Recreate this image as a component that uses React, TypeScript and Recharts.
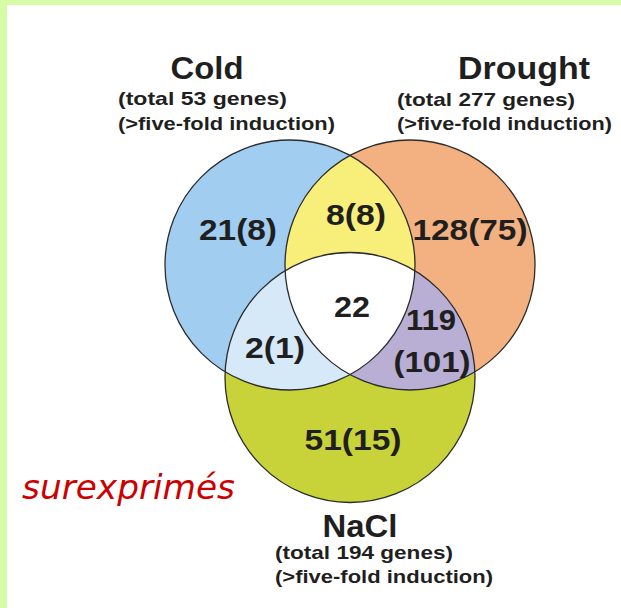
import React from 'react';
import { ScatterChart, Scatter, XAxis, YAxis } from 'recharts';

// ---- Data ----
const SETS = ['Cold', 'Drought', 'NaCl'];
const SET_TOTALS = [53, 277, 194];
// Venn circle centres in diagram units (circle radius = 100 units)
const CIRCLE_X = [-48, 48, 0];
const CIRCLE_Y = [0, 0, -90];
const RADIUS_UNITS = 100;

const REGION_NAMES = ['Cold only', 'Cold∩Drought', 'Drought only', 'All three', 'Cold∩NaCl', 'Drought∩NaCl', 'NaCl only'];
const REGION_TEXT = [['21(8)'], ['8(8)'], ['128(75)'], ['22'], ['2(1)'], ['119', '(101)'], ['51(15)']];

const SUBTITLE = '(>five-fold induction)';
const NOTE = 'surexprimés';

// ---- Layout / style ----
const W = 621;
const H = 608;
const X_DOMAIN: [number, number] = [-280, 216.8];
const Y_DOMAIN: [number, number] = [-274.4, 212];
const K = W / (X_DOMAIN[1] - X_DOMAIN[0]);

const SET_FILL = ['#a0cdf0', '#f3b182', '#c8d33a'];
// overlap regions: painted circle index + clipping circle indices
const OVERLAP_BASE = [1, 2, 2, 2];
const OVERLAP_CLIPS = [[0], [0], [1], [0, 1]];
const OVERLAP_FILL = ['#f8ee7a', '#d6e9f8', '#b9aed3', '#ffffff'];

// label positions (diagram units): [x, baseline y, textLength px]
const REGION_POS: number[][][] = [
  [[-89.6, 20, 78]],
  [[4.8, 32, 60]],
  [[96, 20, 115]],
  [[1.6, -41.6, 36]],
  [[-60, -74.4, 60]],
  [[64.8, -52, 50], [65.6, -85.6, 77]],
  [[2.4, -148, 97]],
];
const TITLE_POS = [
  [-114.4, 148.8, 73],
  [139.2, 148.8, 132],
  [8, -217.6, 75],
];
const TOTAL_POS = [
  [-185.6, 128, 169],
  [37.6, 127.2, 178],
  [-60, -235.2, 178],
];
const SUB_POS = [
  [-185.6, 108, 217],
  [37.6, 108, 215],
  [-60, -254.4, 218],
];
const NOTE_POS = [-262.4, -187.2, 213];

const FONT = '"Liberation Sans", Arial, Helvetica, sans-serif';
const TEXT_COLOR = '#1f1f1f';

const circleData = SETS.map((name, i) => ({ name, idx: i, x: CIRCLE_X[i], y: CIRCLE_Y[i] }));
const overlapData = OVERLAP_BASE.map((b, i) => ({ idx: i, base: b, clips: OVERLAP_CLIPS[i], x: CIRCLE_X[b], y: CIRCLE_Y[b] }));

type Ann = { x: number; y: number; text: string; len: number; size: number; anchor: string; italic?: boolean; color?: string; bold?: boolean };
const annData: Ann[] = [];
REGION_NAMES.forEach((_, i) => {
  REGION_TEXT[i].forEach((t, j) => {
    const p = REGION_POS[i][j];
    annData.push({ x: p[0], y: p[1], text: t, len: p[2], size: 30, anchor: 'middle', bold: true });
  });
});
SETS.forEach((s, i) => {
  annData.push({ x: TITLE_POS[i][0], y: TITLE_POS[i][1], text: s, len: TITLE_POS[i][2], size: 31, anchor: 'middle', bold: true });
  annData.push({ x: TOTAL_POS[i][0], y: TOTAL_POS[i][1], text: `(total ${SET_TOTALS[i]} genes)`, len: TOTAL_POS[i][2], size: 19, anchor: 'start', bold: true });
  annData.push({ x: SUB_POS[i][0], y: SUB_POS[i][1], text: SUBTITLE, len: SUB_POS[i][2], size: 19, anchor: 'start', bold: true });
});
annData.push({ x: NOTE_POS[0], y: NOTE_POS[1], text: NOTE, len: NOTE_POS[2], size: 33, anchor: 'start', italic: true, color: '#cc0000', bold: false });

const rPx = RADIUS_UNITS * K;

const CircleFill = (props: any) => {
  const { cx, cy, payload } = props;
  return (
    <g>
      <defs>
        <clipPath id={`venn-clip-${payload.idx}`}>
          <circle cx={cx} cy={cy} r={rPx} />
        </clipPath>
      </defs>
      <circle cx={cx} cy={cy} r={rPx} fill={SET_FILL[payload.idx]} />
    </g>
  );
};

const OverlapFill = (props: any) => {
  const { cx, cy, payload } = props;
  let node: React.ReactNode = <circle cx={cx} cy={cy} r={rPx} fill={OVERLAP_FILL[payload.idx]} />;
  (payload.clips as number[]).forEach((c) => {
    node = <g clipPath={`url(#venn-clip-${c})`}>{node}</g>;
  });
  return <g>{node}</g>;
};

const CircleStroke = (props: any) => {
  const { cx, cy } = props;
  return <circle cx={cx} cy={cy} r={rPx} fill="none" stroke="#2b2b2b" strokeWidth={1.3} />;
};

const AnnText = (props: any) => {
  const { cx, cy, payload } = props;
  const a = payload as Ann;
  return (
    <text
      x={cx}
      y={cy}
      textAnchor={a.anchor as any}
      fontFamily={a.italic ? '"DejaVu Sans", sans-serif' : FONT}
      fontWeight={a.bold ? 'bold' : 'normal'}
      fontStyle={a.italic ? 'italic' : 'normal'}
      fontSize={a.size}
      fill={a.color || TEXT_COLOR}
      textLength={a.len}
      lengthAdjust="spacingAndGlyphs"
    >
      {a.text}
    </text>
  );
};

export default function App() {
  return (
    <div style={{ position: 'absolute', left: 0, top: 0, width: W, height: H, background: '#d6fca6' }}>
      <div style={{ position: 'absolute', left: 7, top: 5, width: W - 7, height: H - 5, background: '#ffffff' }} />
      <div style={{ position: 'absolute', left: 0, top: 0 }}>
        <ScatterChart width={W} height={H} margin={{ top: 0, right: 0, bottom: 0, left: 0 }}>
          <XAxis type="number" dataKey="x" domain={X_DOMAIN} hide allowDataOverflow />
          <YAxis type="number" dataKey="y" domain={Y_DOMAIN} hide width={0} allowDataOverflow />
          <Scatter data={circleData} shape={CircleFill} isAnimationActive={false} />
          <Scatter data={overlapData} shape={OverlapFill} isAnimationActive={false} />
          <Scatter data={circleData} shape={CircleStroke} isAnimationActive={false} />
          <Scatter data={annData} shape={AnnText} isAnimationActive={false} />
        </ScatterChart>
      </div>
    </div>
  );
}
